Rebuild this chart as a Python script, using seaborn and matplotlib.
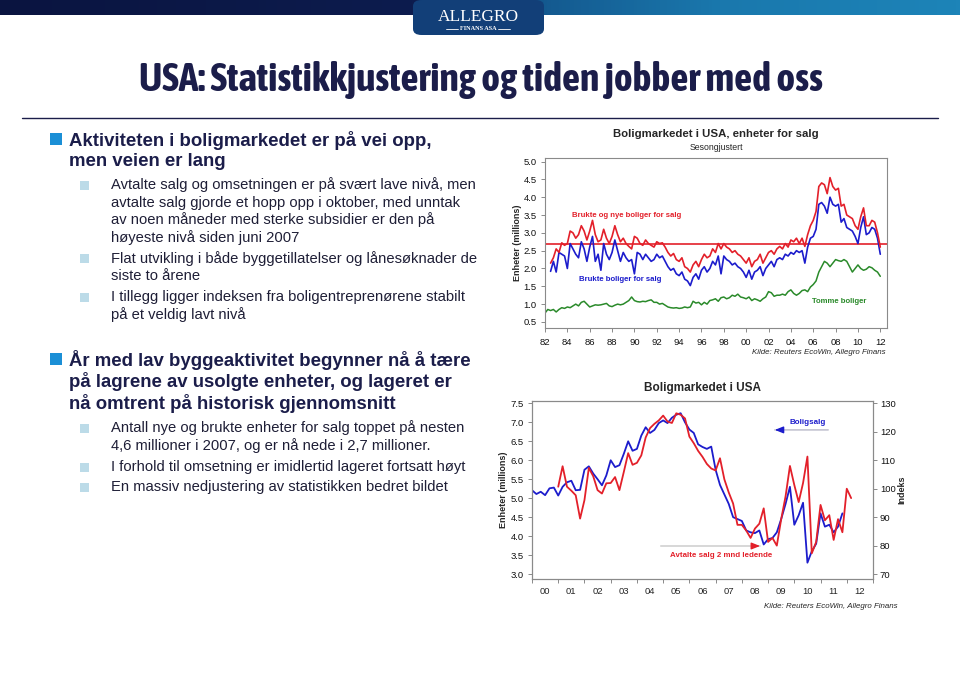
import numpy as np
import pandas as pd
import matplotlib
matplotlib.use("Agg")
import matplotlib.pyplot as plt
from matplotlib import font_manager
from matplotlib.patches import Rectangle, FancyBboxPatch
from matplotlib.lines import Line2D
import seaborn as sns

# ── Data: top chart (units for sale, millions, quarterly) ───────────────────
top_start = 1982.5
red_top = [
    2.15, 2.30,
    2.55, 2.45, 2.72, 2.65,   # 83
    2.70, 3.05, 3.00, 2.85,   # 84
    2.95, 3.20, 3.05, 2.80,   # 85
    3.05, 3.35, 2.95, 2.75,   # 86
    2.80, 3.10, 2.85, 2.70,   # 87
    2.90, 3.20, 2.95, 2.75,   # 88
    2.85, 2.70, 2.62, 2.55,   # 89
    2.90, 2.85, 2.70, 2.65,   # 90
    2.80, 2.70, 2.65, 2.60,   # 91
    2.75, 2.70, 2.72, 2.60,   # 92
    2.45, 2.35, 2.42, 2.25,   # 93
    2.20, 2.30, 2.05, 2.00,   # 94
    1.90, 2.10, 2.20, 2.05,   # 95
    2.25, 2.40, 2.30, 2.35,   # 96
    2.55, 2.45, 2.70, 2.55,   # 97
    2.70, 2.60, 2.55, 2.45,   # 98
    2.50, 2.40, 2.35, 2.25,   # 99
    2.15, 2.30, 2.05, 2.20,   # 00
    2.25, 2.40, 2.15, 2.30,   # 01
    2.45, 2.50, 2.40, 2.55,   # 02
    2.62, 2.55, 2.70, 2.60,   # 03
    2.80, 2.75, 2.85, 2.70,   # 04
    2.85, 2.62, 2.95, 3.20,   # 05
    3.35, 3.60, 4.30, 4.40,   # 06
    4.35, 4.10, 4.55, 4.30,   # 07
    4.20, 4.25, 3.75, 3.80,   # 08
    3.50, 3.45, 3.40, 3.20,   # 09
    3.10, 3.45, 3.70, 3.20,   # 10
    3.20, 3.35, 3.30, 3.00,   # 11
    2.60,
]
blue_top = [
    1.92, 2.20,
    1.90, 2.45, 2.40, 2.35,   # 83
    2.00, 2.70, 2.55, 2.40,   # 84
    2.30, 2.75, 2.55, 2.20,   # 85
    2.60, 2.90, 2.20, 2.40,   # 86
    1.95, 2.70, 2.40, 2.25,   # 87
    2.45, 2.80, 2.50, 2.20,   # 88
    2.45, 2.30, 2.20, 2.25,   # 89
    1.85, 2.45, 2.40, 2.25,   # 90
    2.40, 2.30, 2.20, 2.25,   # 91
    2.40, 2.30, 2.35, 2.20,   # 92
    2.05, 1.95, 2.00, 1.85,   # 93
    1.80, 1.90, 1.70, 1.65,   # 94
    1.52, 1.75, 1.85, 1.70,   # 95
    1.95, 2.05, 1.90, 2.00,   # 96
    2.20, 2.10, 2.35, 1.85,   # 97
    2.35, 2.25, 2.20, 2.10,   # 98
    2.15, 2.05, 2.00, 1.90,   # 99
    1.75, 1.95, 1.70, 1.90,   # 00
    1.95, 2.05, 1.80, 2.00,   # 01
    2.10, 2.20, 2.05, 2.25,   # 02
    2.30, 2.25, 2.40, 2.35,   # 03
    2.45, 2.40, 2.50, 2.45,   # 04
    2.50, 2.15, 2.60, 2.85,   # 05
    2.90, 3.10, 3.80, 3.85,   # 06
    3.75, 3.55, 4.00, 3.80,   # 07
    3.75, 3.80, 3.30, 3.40,   # 08
    3.15, 3.10, 3.05, 2.90,   # 09
    2.70, 3.15, 3.45, 2.95,   # 10
    3.00, 3.15, 3.10, 2.85,   # 11
    2.40,
]
green_start = 1982.0
green_top = [
    0.75, 0.85, 0.82, 0.85,   # 82
    0.78, 0.85, 0.90, 0.88,   # 83
    0.92, 0.90, 0.95, 1.00,   # 84
    0.95, 1.05, 1.08, 1.00,   # 85
    0.92, 0.95, 0.98, 0.97,   # 86
    0.98, 1.00, 1.02, 0.95,   # 87
    0.93, 0.97, 1.00, 0.98,   # 88
    1.00, 1.05, 1.10, 1.20,   # 89
    1.10, 1.07, 1.06, 1.08,   # 90
    1.07, 1.10, 1.12, 1.05,   # 91
    1.05, 1.00, 1.02, 0.97,   # 92
    0.92, 0.90, 0.89, 0.90,   # 93
    0.88, 0.89, 0.92, 0.90,   # 94
    0.92, 1.08, 1.03, 1.05,   # 95
    0.98, 1.05, 1.00, 1.10,   # 96
    1.12, 1.15, 1.08, 1.18,   # 97
    1.20, 1.15, 1.18, 1.25,   # 98
    1.22, 1.28, 1.20, 1.18,   # 99
    1.15, 1.20, 1.10, 1.15,   # 00
    1.12, 1.08, 1.15, 1.20,   # 01
    1.35, 1.32, 1.22, 1.25,   # 02
    1.25, 1.28, 1.25, 1.35,   # 03
    1.40, 1.30, 1.25, 1.30,   # 04
    1.38, 1.40, 1.35, 1.48,   # 05
    1.55, 1.65, 1.90, 2.05,   # 06
    2.20, 2.15, 2.05, 2.15,   # 07
    2.25, 2.22, 2.20, 2.25,   # 08
    2.20, 2.05, 1.90, 2.00,   # 09
    2.10, 2.00, 1.95, 1.98,   # 10
    2.05, 2.02, 1.95, 1.90,   # 11
    1.78,
]
avg_level = 2.7
top_xticks = list(range(1982, 2013, 2))
top_yticks = [0.5, 1.0, 1.5, 2.0, 2.5, 3.0, 3.5, 4.0, 4.5, 5.0]

# ── Data: bottom chart (bi-monthly) ─────────────────────────────────────────
sales_start = 2000.0
home_sales = [
    5.21, 5.11, 5.17, 5.08, 5.26, 5.28,   # 00
    5.07, 5.30, 5.42, 5.46, 5.21, 5.22,   # 01
    5.75, 5.84, 5.65, 5.50, 5.34, 5.60,   # 02
    6.00, 5.82, 5.87, 6.17, 6.50, 6.25,   # 03
    6.30, 6.65, 6.87, 6.72, 6.80, 6.98,   # 04
    7.05, 6.98, 7.12, 7.20, 7.24, 7.00,   # 05
    6.81, 6.72, 6.42, 6.35, 6.30, 6.36,   # 06
    5.75, 5.35, 5.10, 4.85, 4.50, 4.45,   # 07
    4.40, 4.15, 4.10, 4.08, 4.15, 3.78,   # 08
    3.92, 3.95, 4.10, 4.45, 4.85, 5.30,   # 09
    4.30, 4.55, 4.88, 3.30, 3.60, 3.80,   # 10
    4.60, 4.25, 4.30, 4.10, 4.25, 4.60,   # 11
]
pending_start = 2001.0
pending_index = [
    100.7, 107.9, 100.7, 99.3, 97.7, 89.5,     # 01
    96.0, 107.3, 104.4, 99.5, 98.3, 101.9,     # 02
    102.0, 104.1, 99.5, 105.9, 112.5, 108.4,   # 03
    109.1, 111.7, 118.0, 121.3, 122.8, 124.0,  # 04
    125.7, 123.6, 123.1, 126.5, 126.0, 124.7,  # 05
    118.3, 116.0, 113.3, 111.2, 108.7, 107.1,  # 06
    106.4, 110.7, 103.3, 98.7, 94.8, 87.3,     # 07
    87.3, 85.3, 82.7, 86.0, 87.7, 93.1,        # 08
    81.3, 82.7, 80.0, 89.3, 97.3, 108.0,       # 09
    101.3, 95.3, 102.0, 111.3, 77.3, 81.3,     # 10
    94.3, 88.9, 90.7, 82.0, 89.3, 84.7,        # 11
    100.0, 96.7,
]
bot_years = list(range(2000, 2013))
bot_yticks = [3.0, 3.5, 4.0, 4.5, 5.0, 5.5, 6.0, 6.5, 7.0, 7.5]
idx_yticks = [70, 80, 90, 100, 110, 120, 130]

# ── Slide text ──────────────────────────────────────────────────────────────
slide_title = "USA: Statistikkjustering og tiden jobber med oss"
block1_head = ["Aktiviteten i boligmarkedet er på vei opp,", "men veien er lang"]
block1_items = [
    ["Avtalte salg og omsetningen er på svært lave nivå, men",
     "avtalte salg gjorde et hopp opp i oktober, med unntak",
     "av noen måneder med sterke subsidier er den på",
     "høyeste nivå siden juni 2007"],
    ["Flat utvikling i både byggetillatelser og lånesøknader de",
     "siste to årene"],
    ["I tillegg ligger indeksen fra boligentreprenørene stabilt",
     "på et veldig lavt nivå"],
]
block2_head = ["År med lav byggeaktivitet begynner nå å tære",
               "på lagrene av usolgte enheter, og lageret er",
               "nå omtrent på historisk gjennomsnitt"]
block2_items = [
    ["Antall nye og brukte enheter for salg toppet på nesten",
     "4,6 millioner i 2007, og er nå nede i 2,7 millioner."],
    ["I forhold til omsetning er imidlertid lageret fortsatt høyt"],
    ["En massiv nedjustering av statistikken bedret bildet"],
]
source = "Kilde: Reuters EcoWin, Allegro Finans"

# ── Style ───────────────────────────────────────────────────────────────────
sns.set_style("white")
plt.rcParams["font.family"] = ["Liberation Sans", "DejaVu Sans"]

RED = "#e3202a"
BLUE = "#1c1ccc"
GREEN = "#2a8a2a"
NAVY = "#1b1d4a"
TXT = "#1e1e36"
SPINE = "#8a8a8a"

W, H = 960, 679
fig = plt.figure(figsize=(W / 100, H / 100), dpi=100)
fig.patch.set_facecolor("white")


def fx(x):
    return x / W


def fy(y):
    return 1 - y / H


# ── Banner with logo tab ────────────────────────────────────────────────────
ax_bar = fig.add_axes([0, fy(15), 1, 15 / H])
grad = np.linspace(0, 1, 256).reshape(1, -1)
bar_cmap = matplotlib.colors.LinearSegmentedColormap.from_list(
    "bar", [(0, "#0a1440"), (0.43, "#0d1c4e"), (0.57, "#145a90"),
            (0.75, "#1a78ad"), (1, "#1d84b8")])
ax_bar.imshow(grad, aspect="auto", cmap=bar_cmap, extent=[0, 1, 0, 1])
ax_bar.axis("off")

tab = FancyBboxPatch((fx(413), fy(35)), fx(131), 35 / H,
                     boxstyle="round,pad=0,rounding_size=0.009",
                     transform=fig.transFigure, facecolor="#123f78",
                     edgecolor="none")
fig.add_artist(tab)
fig.text(fx(478), fy(17), "ALLEGRO", ha="center", va="center", color="white",
         fontsize=12.5, family=["Liberation Serif", "DejaVu Serif"])
fig.text(fx(478), fy(28.5), "FINANS ASA", ha="center", va="center",
         color="white", fontsize=4.5, fontweight="bold",
         family=["Liberation Serif", "DejaVu Serif"])
for x0, x1 in [(446, 458), (498, 510)]:
    fig.add_artist(Line2D([fx(x0), fx(x1)], [fy(28.5), fy(28.5)],
                          transform=fig.transFigure, color="white", lw=0.6))


# ── Slide title and rule ────────────────────────────────────────────────────
def is_bold(f):
    w = f.weight
    if isinstance(w, str):
        w = font_manager.weight_dict.get(w, 400)
    return w >= 600


fonts = font_manager.fontManager.ttflist
bold_narrow = sorted({f.name for f in fonts
                      if ("Narrow" in f.name or "Condensed" in f.name)
                      and is_bold(f)})
if "Liberation Sans Narrow" in bold_narrow:
    title_kw = dict(fontsize=25, family=["Liberation Sans Narrow", "DejaVu Sans"])
elif bold_narrow:
    title_kw = dict(fontsize=28.5, family=[bold_narrow[0], "DejaVu Sans"])
else:
    title_kw = dict(fontsize=22, family=["Liberation Sans", "DejaVu Sans"])
fig.text(fx(481), fy(80), slide_title, ha="center", va="center", color=NAVY,
         fontweight="bold", **title_kw)
fig.add_artist(Line2D([fx(22), fx(938)], [fy(118), fy(118)],
                      transform=fig.transFigure, color=NAVY, lw=1.0))


# ── Left text blocks ────────────────────────────────────────────────────────
def main_bullet(y_top, lines, y_lines):
    fig.add_artist(Rectangle((fx(50), fy(y_top + 12)), fx(12), 12 / H,
                             transform=fig.transFigure, facecolor="#1b8fd6",
                             edgecolor="none"))
    for line, y in zip(lines, y_lines):
        fig.text(fx(69), fy(y), line, ha="left", va="center", color=NAVY,
                 fontsize=13.4, fontweight="bold")


def sub_bullet(lines, y_lines):
    y0 = y_lines[0]
    fig.add_artist(Rectangle((fx(80), fy(y0 + 4.5)), fx(9), 9 / H,
                             transform=fig.transFigure, facecolor="#bcdbe8",
                             edgecolor="none"))
    for line, y in zip(lines, y_lines):
        fig.text(fx(111), fy(y), line, ha="left", va="center", color=TXT,
                 fontsize=10.6)


main_bullet(133, block1_head, [140, 161.5])
sub_bullet(block1_items[0], [185, 202.5, 220, 238])
sub_bullet(block1_items[1], [258.5, 276.5])
sub_bullet(block1_items[2], [297, 315])

main_bullet(353, block2_head, [360, 381.5, 403.5])
sub_bullet(block2_items[0], [428, 445.5])
sub_bullet(block2_items[1], [467])
sub_bullet(block2_items[2], [487])


def style_axes(ax):
    for s in ax.spines.values():
        s.set_color(SPINE)
        s.set_linewidth(0.8)
    ax.tick_params(axis="both", labelsize=6.8, length=3, width=0.7,
                   color=SPINE, pad=2, labelcolor="#111111")


# ── Top chart ───────────────────────────────────────────────────────────────
x_top = top_start + np.arange(len(red_top)) * 0.25
x_green = green_start + np.arange(len(green_top)) * 0.25
df_top = pd.DataFrame({"year": x_top, "red": red_top, "blue": blue_top})
df_green = pd.DataFrame({"year": x_green, "green": green_top})

ax1 = fig.add_axes([fx(545), fy(328), (887 - 545) / W, (328 - 158) / H])
ax1.axhline(avg_level, color=RED, lw=1.2, zorder=1)
sns.lineplot(data=df_top, x="year", y="blue", ax=ax1, color=BLUE, lw=1.2)
sns.lineplot(data=df_top, x="year", y="red", ax=ax1, color=RED, lw=1.2)
sns.lineplot(data=df_green, x="year", y="green", ax=ax1, color=GREEN, lw=1.1)
ax1.set_xlim(1982, 2012.6)
ax1.set_ylim(0.33, 5.1)
ax1.set_xticks(top_xticks)
ax1.set_xticklabels([f"{y % 100:02d}" for y in top_xticks])
ax1.set_yticks(top_yticks)
ax1.set_yticklabels([f"{v:.1f}" for v in top_yticks])
ax1.set_xlabel("")
ax1.set_ylabel("Enheter (millions)", fontsize=6.5, fontweight="bold", labelpad=1)
style_axes(ax1)
ax1.tick_params(bottom=True, left=True)
ax1.tick_params(axis="y", pad=3)
ax1.tick_params(axis="x", pad=4)

ax1.text(1984.4, 3.49, "Brukte og nye boliger for salg", color=RED,
         fontsize=5.6, fontweight="bold", va="center")
ax1.text(1985.0, 1.69, "Brukte boliger for salg", color=BLUE,
         fontsize=5.6, fontweight="bold", va="center")
ax1.text(2005.9, 1.06, "Tomme boliger", color=GREEN,
         fontsize=5.6, fontweight="bold", va="center")

fig.text(fx(716), fy(134), "Boligmarkedet i USA, enheter for salg",
         ha="center", va="center", fontsize=8.2, fontweight="bold")
fig.text(fx(716), fy(147), "Sesongjustert", ha="center", va="center",
         fontsize=6.3)
fig.text(fx(886), fy(353), source, ha="right", va="center", fontsize=5.7,
         style="italic")

# ── Bottom chart ────────────────────────────────────────────────────────────
x_sales = sales_start + np.arange(len(home_sales)) / 6
x_pend = pending_start + np.arange(len(pending_index)) / 6
df_sales = pd.DataFrame({"year": x_sales, "sales": home_sales})
df_pend = pd.DataFrame({"year": x_pend, "pending": pending_index})

ax3 = fig.add_axes([fx(532), fy(579), (873 - 532) / W, (579 - 400.7) / H])
ax4 = ax3.twinx()
sns.lineplot(data=df_sales, x="year", y="sales", ax=ax3, color=BLUE, lw=1.3)
sns.lineplot(data=df_pend, x="year", y="pending", ax=ax4, color=RED, lw=1.3)
ax3.set_xlim(2000, 2013)
ax3.set_ylim(2.87, 7.57)
ax4.set_ylim(68.27, 130.93)
ax3.set_xticks(bot_years + [2013])
ax3.set_xticklabels([])
ax3.set_xticks([y + 0.5 for y in bot_years], minor=True)
ax3.set_xticklabels([f"{y % 100:02d}" for y in bot_years], minor=True)
ax3.set_yticks(bot_yticks)
ax3.set_yticklabels([f"{v:.1f}" for v in bot_yticks])
ax4.set_yticks(idx_yticks)
ax4.set_yticklabels([str(v) for v in idx_yticks])
ax3.set_xlabel("")
ax3.set_ylabel("Enheter (millions)", fontsize=6.5, fontweight="bold", labelpad=2)
ax4.set_ylabel("Indeks", fontsize=6.5, fontweight="bold", labelpad=1)
style_axes(ax3)
style_axes(ax4)
ax3.tick_params(bottom=True, left=True)
ax3.tick_params(axis="x", which="minor", length=0, labelsize=6.8, pad=6)
ax4.tick_params(right=True, pad=2)
ax3.tick_params(axis="y", pad=3)

ax3.annotate("", xy=(2009.15, 6.80), xytext=(2011.4, 6.80),
             arrowprops=dict(arrowstyle="-", color="#b8b8c8", lw=1.0))
ax3.annotate("", xy=(2009.15, 6.80), xytext=(2009.6, 6.80),
             arrowprops=dict(arrowstyle="-|>,head_length=0.5,head_width=0.2",
                             color=BLUE, lw=1.0))
ax3.text(2010.5, 7.0, "Boligsalg", color=BLUE, fontsize=5.8,
         fontweight="bold", ha="center", va="center")
ax3.annotate("", xy=(2008.8, 3.74), xytext=(2004.8, 3.74),
             arrowprops=dict(arrowstyle="-", color="#c8c8c8", lw=1.0))
ax3.annotate("", xy=(2008.8, 3.74), xytext=(2008.35, 3.74),
             arrowprops=dict(arrowstyle="-|>,head_length=0.5,head_width=0.2",
                             color=RED, lw=1.0))
ax3.text(2007.2, 3.50, "Avtalte salg 2 mnd ledende", color=RED, fontsize=5.7,
         fontweight="bold", ha="center", va="center")

fig.text(fx(703), fy(388), "Boligmarkedet i USA", ha="center", va="center",
         fontsize=8.5, fontweight="bold")
fig.text(fx(898), fy(607), source, ha="right", va="center", fontsize=5.7,
         style="italic")

fig.savefig("out.png", dpi=100, facecolor="white")
